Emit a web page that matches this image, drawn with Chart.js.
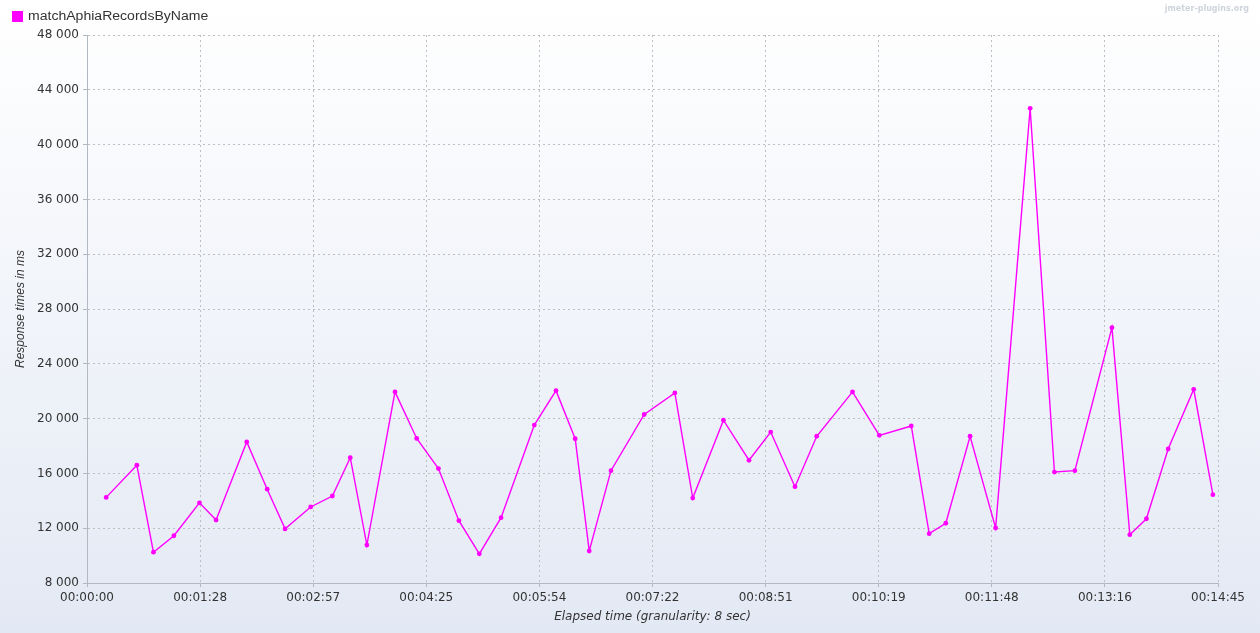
<!DOCTYPE html>
<html>
<head>
<meta charset="utf-8">
<script src="https://cdn.jsdelivr.net/npm/chart.js@4/dist/chart.umd.min.js"></script>
<style>
  html, body { margin: 0; padding: 0; background: #ffffff; }
  #wrap { width: 1260px; height: 633px; position: relative; }
</style>
</head>
<body>
<div id="wrap"><canvas id="c" width="1260" height="633"></canvas></div>
<script>
// Elapsed time (seconds) of each sample
const elapsedSec = [15, 39, 52, 68, 88, 101, 125, 141, 155, 175, 192, 206, 219, 241, 258, 275,
  291, 307, 324, 350, 367, 382, 393, 410, 436, 460, 474, 498, 518, 535, 554, 571,
  599, 620, 645, 659, 672, 691, 711, 738, 757, 773, 802, 816, 829, 846, 866, 881];
// Response times in ms
const responseMs = [14250, 16600, 10250, 11450, 13850, 12600, 18300, 14850, 11950, 13550, 14350, 17150, 10770, 21950, 18550, 16350,
  12550, 10130, 12770, 19530, 22040, 18530, 10340, 16200, 20300, 21870, 14200, 19880, 16960, 19020, 15030, 18710,
  21950, 18780, 19460, 11600, 12360, 18710, 12020, 42650, 16100, 16200, 26640, 11530, 12690, 17780, 22140, 14450];
const seriesName = "matchAphiaRecordsByName";
const xTickValues = [0, 88.5, 177, 265.5, 354, 442.5, 531, 619.5, 708, 796.5, 885];
const xTickLabels = ["00:00:00", "00:01:28", "00:02:57", "00:04:25", "00:05:54", "00:07:22",
  "00:08:51", "00:10:19", "00:11:48", "00:13:16", "00:14:45"];
const yTickValues = [8000, 12000, 16000, 20000, 24000, 28000, 32000, 36000, 40000, 44000, 48000];

const points = elapsedSec.map((t, i) => ({ x: t, y: responseMs[i] }));
const LINE = '#ff00ff';
const GRID = '#bcbec2';
const AXIS = '#b2b8c2';

const bgPlugin = {
  id: 'bg',
  beforeDraw(chart) {
    const ctx = chart.ctx;
    const g = ctx.createLinearGradient(0, 0, 0, chart.height);
    g.addColorStop(0, '#ffffff');
    g.addColorStop(1, '#e3e9f4');
    ctx.save();
    ctx.fillStyle = g;
    ctx.fillRect(0, 0, chart.width, chart.height);
    ctx.restore();
  },
  afterDraw(chart) {
    const ctx = chart.ctx;
    ctx.save();
    // legend
    ctx.fillStyle = LINE;
    ctx.fillRect(12, 11, 11, 11);
    ctx.fillStyle = '#333333';
    ctx.font = '12px "Liberation Sans", Arial, sans-serif';
    ctx.textBaseline = 'middle';
    ctx.save();
    ctx.translate(28, 17);
    ctx.scale(1.17, 1);
    ctx.fillText(seriesName, 0, 0);
    ctx.restore();
    // watermark
    ctx.fillStyle = '#cfd4dc';
    ctx.font = 'bold 8px "DejaVu Sans", sans-serif';
    ctx.textAlign = 'right';
    ctx.textBaseline = 'middle';
    ctx.fillText('jmeter-plugins.org', 1249, 9);
    ctx.restore();
  }
};

new Chart(document.getElementById('c'), {
  type: 'line',
  data: {
    datasets: [{
      label: seriesName,
      data: points,
      borderColor: LINE,
      backgroundColor: LINE,
      borderWidth: 1.4,
      pointRadius: 2.4,
      pointBorderWidth: 0,
      pointBackgroundColor: LINE,
      tension: 0,
      fill: false
    }]
  },
  options: {
    responsive: false,
    animation: false,
    devicePixelRatio: 1,
    layout: { padding: { left: 0, right: 42, top: 35, bottom: 0 } },
    plugins: { legend: { display: false }, tooltip: { enabled: false } },
    scales: {
      x: {
        type: 'linear',
        min: 0,
        max: 885,
        afterBuildTicks(scale) { scale.ticks = xTickValues.map(v => ({ value: v })); },
        afterFit(scale) { scale.height = 50; },
        ticks: {
          autoSkip: false,
          maxRotation: 0,
          padding: 4,
          color: '#333333',
          font: { family: '"DejaVu Sans", sans-serif', size: 12 },
          callback(value, index) { return xTickLabels[index]; }
        },
        grid: {
          color: GRID,
          lineWidth: 1,
          tickLength: 4,
          tickColor: AXIS,
          drawTicks: true
        },
        border: { display: true, color: AXIS, width: 1, dash: [2, 3] },
        title: {
          display: true,
          text: 'Elapsed time (granularity: 8 sec)',
          color: '#333333',
          font: { family: '"DejaVu Sans", sans-serif', size: 12, style: 'italic' },
          padding: { top: 0, bottom: 9 }
        }
      },
      y: {
        type: 'linear',
        min: 8000,
        max: 48000,
        afterBuildTicks(scale) { scale.ticks = yTickValues.map(v => ({ value: v })); },
        afterFit(scale) { scale.width = 87; },
        ticks: {
          padding: 4,
          color: '#333333',
          font: { family: '"DejaVu Sans", sans-serif', size: 12 },
          callback(value) { return String(value).replace(/\B(?=(\d{3})+(?!\d))/g, ' '); }
        },
        grid: {
          color: GRID,
          lineWidth: 1,
          tickLength: 4,
          tickColor: AXIS
        },
        border: { display: true, color: AXIS, width: 1, dash: [2, 3] },
        title: {
          display: true,
          text: 'Response times in ms',
          color: '#333333',
          font: { family: '"Liberation Sans", Arial, sans-serif', size: 12, style: 'italic' },
          padding: { top: 13, bottom: 0 }
        }
      }
    }
  },
  plugins: [bgPlugin]
});
</script>
</body>
</html>
